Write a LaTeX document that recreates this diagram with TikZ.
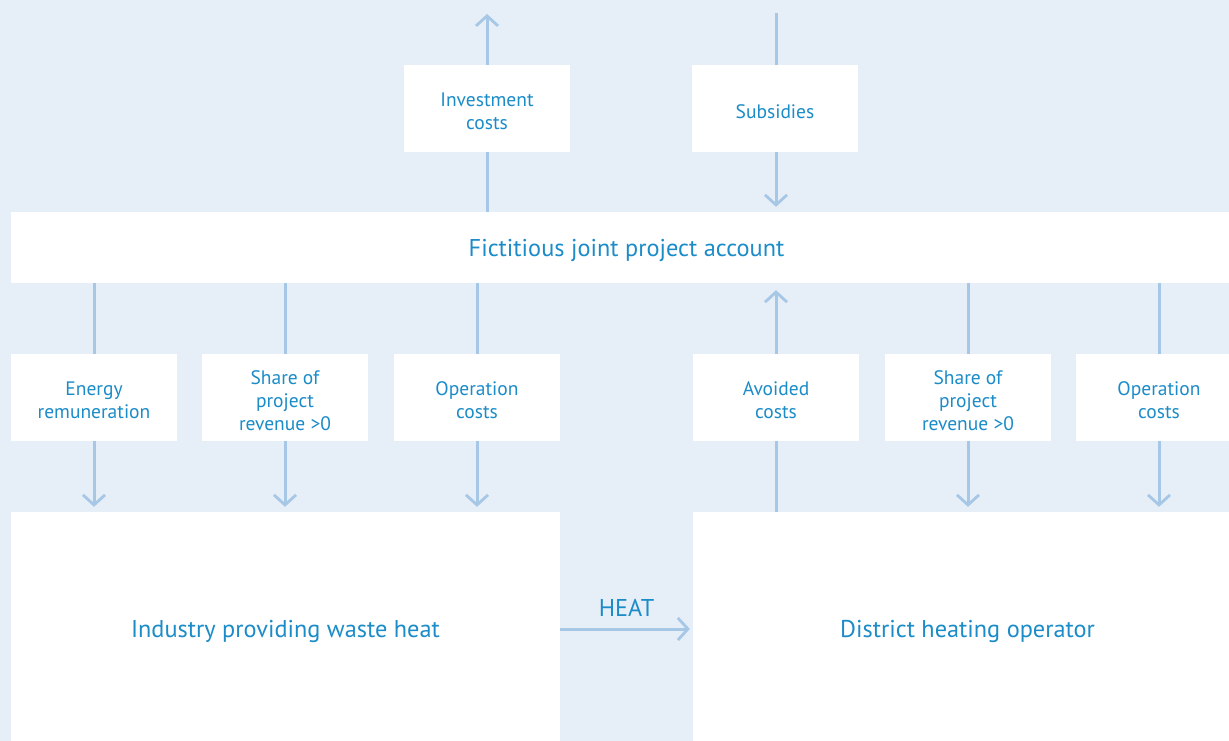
\documentclass[tikz,border=0pt]{standalone}
\usepackage{fontspec}
\setmainfont{PT Sans}
\usetikzlibrary{arrows.meta}
\definecolor{bgblue}{HTML}{E6EEF7}
\definecolor{linkblue}{HTML}{A7C7E6}
\definecolor{txtblue}{HTML}{1B8CC8}
\pgfdeclarelayer{bg}
\pgfdeclarelayer{lines}
\pgfsetlayers{bg,lines,main}
\tikzset{
  smallfont/.style={text=txtblue, align=center, font=\fontsize{19.5}{23}\selectfont},
  bigfont/.style={text=txtblue, font=\fontsize{24.3}{28}\selectfont},
  box/.style={fill=white, draw=none, inner sep=0pt},
  flow/.style={box, minimum width=166pt, minimum height=87pt,
    label={[smallfont, yshift=-3pt]center:#1}},
  arr/.style={draw=linkblue, line width=3pt, -{Straight Barb[length=10pt, width=22pt, line width=2.8pt]}},
}
\begin{document}
\begin{tikzpicture}[x=1pt, y=-1pt]
  \begin{pgfonlayer}{bg}
    \fill[bgblue] (0,0) rectangle (1229,741);
  \end{pgfonlayer}
  \useasboundingbox (0,0) rectangle (1229,741);

  % top row
  \node[flow={Investment\\costs}] (inv) at (487,108.5) {};
  \node[flow={Subsidies}] (sub) at (775,108.5) {};

  % joint account bar
  \node[box, minimum width=1231pt, minimum height=71pt,
        label={[bigfont, yshift=-3pt]center:Fictitious joint project account}] (joint) at (626.5,247.5) {};

  % middle row of payment flows
  \node[flow={Energy\\remuneration}] (ener) at (94,397.5) {};
  \node[flow={Share of\\project\\revenue >0}] (shl) at (285,397.5) {};
  \node[flow={Operation\\costs}] (opl) at (477,397.5) {};
  \node[flow={Avoided\\costs}] (avo) at (776,397.5) {};
  \node[flow={Share of\\project\\revenue >0}] (shr) at (968,397.5) {};
  \node[flow={Operation\\costs}] (opr) at (1159,397.5) {};

  % parties
  \node[box, minimum width=549pt, minimum height=240pt] (ind) at (285.5,632) {};
  \node[box, minimum width=549pt, minimum height=240pt] (dh)  at (967.5,632) {};
  \node[bigfont] (indl) at (285.5,631) {Industry providing waste heat};
  \node[bigfont] (dhl)  at (967.5,631) {District heating operator};

  \coordinate (invtop) at (487,14);
  \coordinate (subtop) at (776,13);

  \begin{pgfonlayer}{lines}
    \draw[arr] (joint.north -| inv) -- (invtop);
    \draw[arr, shorten >=5pt] (subtop) -- (joint.north -| subtop);
    \draw[arr, shorten >=5pt] (joint.south -| ener) -- (ind.north -| ener);
    \draw[arr, shorten >=5pt] (joint.south -| shl) -- (ind.north -| shl);
    \draw[arr, shorten >=5pt] (joint.south -| opl) -- (ind.north -| opl);
    \draw[arr, shorten >=7pt] (dh.north -| avo) -- (joint.south -| avo);
    \draw[arr, shorten >=5pt] (joint.south -| shr) -- (dh.north -| shr);
    \draw[arr, shorten >=5pt] (joint.south -| opr) -- (dh.north -| opr);
    \draw[arr, shorten >=3pt] (ind.east |- 0,629) -- (dh.west |- 0,629)
      node[midway, above=8pt, bigfont] (heat) {HEAT};
  \end{pgfonlayer}
\end{tikzpicture}
\end{document}
